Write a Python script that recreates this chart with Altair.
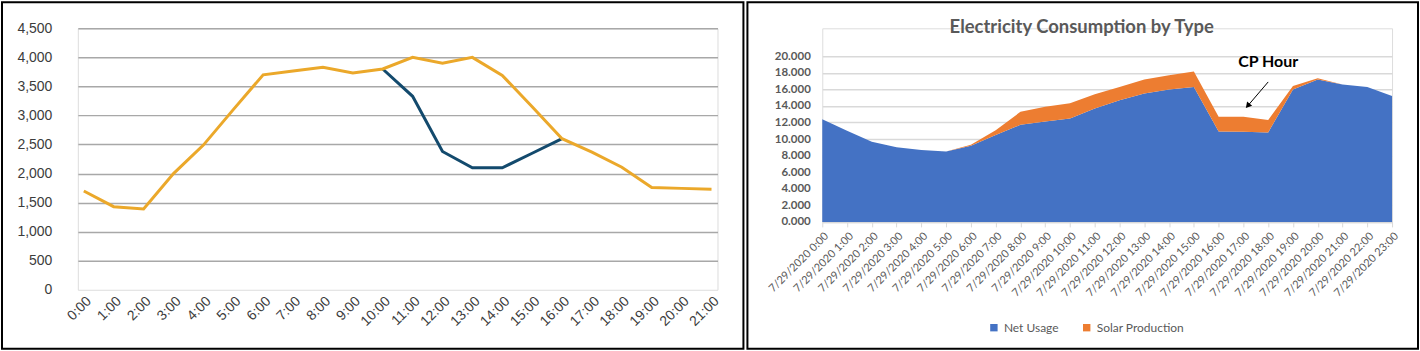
import altair as alt
import pandas as pd

# ---------------- left chart data ----------------
left_hours = [f"{h}:00" for h in range(22)]
left_series_a = [1700, 1430, 1390, 2000, 2490, 3100, 3700, 3765, 3830, 3730, 3800,
                 4000, 3900, 4000, 3690, 3150, 2600, 2370, 2110, 1760, 1745, 1730]
left_hours_b = ["10:00", "11:00", "12:00", "13:00", "14:00", "15:00", "16:00"]
left_series_b = [3800, 3330, 2380, 2100, 2100, 2350, 2600]
left_y_ticks = [0, 500, 1000, 1500, 2000, 2500, 3000, 3500, 4000, 4500]

# ---------------- right chart data ----------------
right_hours = list(range(24))
net_usage = [12.4, 11.0, 9.67, 9.0, 8.67, 8.5, 9.2, 10.48, 11.72, 12.12, 12.48, 13.7,
             14.7, 15.5, 16.0, 16.3, 10.9, 10.88, 10.8, 16.0, 17.2, 16.6, 16.3, 15.2]
solar_production = [0, 0, 0, 0, 0, 0, 0.1, 0.6, 1.57, 1.78, 1.86, 1.7,
                    1.6, 1.7, 1.7, 1.85, 1.8, 1.82, 1.5, 0.4, 0.15, 0, 0, 0]
right_y_ticks = [0, 2, 4, 6, 8, 10, 12, 14, 16, 18, 20]
series_names = ["Net Usage", "Solar Production"]
series_colors = ["#4472C4", "#ED7D31"]

annot_text = "CP Hour"
annot_pos = {"hour": 18.0, "value": 19.3}
arrow = {"h1": 18.0, "v1": 16.9, "h2": 17.2, "v2": 14.1}

# ---------------- left chart ----------------
df_left = pd.concat([
    pd.DataFrame({"lhour": left_hours, "lval": left_series_a, "lser": "A"}),
    pd.DataFrame({"lhour": left_hours_b, "lval": left_series_b, "lser": "B"}),
])

LW, LH = 641, 262
x_left = alt.X("lhour:O", scale=alt.Scale(domain=left_hours, type="point", padding=0.2),
               axis=alt.Axis(title=None, labelAngle=-45, labelAlign="right", labelBaseline="top",
                             labelPadding=4, ticks=False, domain=False, grid=False, labelOverlap=False,
                             labelFont="Liberation Sans", labelFontSize=14, labelColor="#3C3C3C"))
y_left = alt.Y("lval:Q", scale=alt.Scale(domain=[0, 4500], nice=False),
               axis=alt.Axis(title=None, values=left_y_ticks, format=",.0f", ticks=False, domain=False,
                             labelPadding=26, labelFont="Liberation Sans", labelFontSize=14,
                             labelOverlap=False,
                             labelColor="#3C3C3C", gridColor="#A8A8A8", gridWidth=1.5,
                             gridOpacity={"condition": {"test": "datum.value === 0", "value": 0}, "value": 1}))
color_left = alt.Color("lser:N", scale=alt.Scale(domain=["A", "B"], range=["#EBA82A", "#134A6D"]),
                       legend=None)

left_lines_b = alt.Chart(df_left[df_left.lser == "B"]).mark_line(strokeWidth=3).encode(
    x=x_left, y=y_left, color=color_left)
left_lines_a = alt.Chart(df_left[df_left.lser == "A"]).mark_line(strokeWidth=3).encode(
    x=x_left, y=y_left, color=color_left)
left_frame = alt.Chart(alt.Data(values=[{"f": 1}])).mark_rect(
    fill="transparent", stroke="black", strokeWidth=2).encode(
    x=alt.value(-76), x2=alt.value(667), y=alt.value(-26), y2=alt.value(321))

left = alt.layer(left_lines_b, left_lines_a, left_frame).properties(width=LW, height=LH)

# ---------------- right chart ----------------
df_right = pd.concat([
    pd.DataFrame({"hour": right_hours, "value": net_usage, "series": series_names[0], "ord": 0}),
    pd.DataFrame({"hour": right_hours, "value": solar_production, "series": series_names[1], "ord": 1}),
])

RW, RH = 571, 194          # plot area extends 28px above the 20.000 gridline (title space)
Y_TOP = 20 * RH / 166

x_scale_r = alt.Scale(domain=[0, 23], nice=False)
y_scale_r = alt.Scale(domain=[0, Y_TOP], nice=False)
ax_x_r = alt.Axis(title=None, values=right_hours, tickCount=24,
                  labelExpr="'7/29/2020 ' + datum.value + ':00'",
                  labelAngle=-45, labelAlign="right", labelBaseline="top",
                  labelPadding=3, ticks=True, tickSize=5, tickColor="#D9D9D9",
                  domainColor="#D9D9D9", domainWidth=1.5, grid=False, labelOverlap=False,
                  labelFont="Lato", labelFontSize=11, labelColor="#595959")
ax_y_r = alt.Axis(title=None, values=right_y_ticks, tickCount=11, format=".3f",
                  ticks=False, domain=False,
                  labelPadding=12, labelFont="Lato", labelFontSize=11.5, labelOverlap=False,
                  labelFontWeight="bold", labelColor="#595959",
                  gridColor="#D9D9D9", gridWidth=1.5)

area = alt.Chart(df_right).mark_area(interpolate="linear").encode(
    x=alt.X("hour:Q", scale=x_scale_r, axis=ax_x_r),
    y=alt.Y("value:Q", stack="zero", scale=y_scale_r, axis=ax_y_r),
    color=alt.Color("series:N", scale=alt.Scale(domain=series_names, range=series_colors),
                    legend=alt.Legend(title=None, orient="none", legendX=166, legendY=294,
                                      direction="horizontal", symbolType="square", symbolSize=55,
                                      symbolStrokeWidth=0, labelFont="Lato", labelFontSize=12,
                                      labelColor="#595959", columnPadding=22, labelOffset=4)),
    order=alt.Order("ord:Q", sort="ascending"))

title_mark = alt.Chart(alt.Data(values=[{"t": "Electricity Consumption by Type"}])).mark_text(
    font="Lato", fontSize=18.5, fontWeight="bold", color="#595959", align="center", baseline="middle"
).encode(x=alt.value(260), y=alt.value(-1), text="t:N")

cp_text = alt.Chart(alt.Data(values=[{"hour": annot_pos["hour"], "value": annot_pos["value"], "t": annot_text}])).mark_text(
    font="Lato", fontSize=16, fontWeight="bold", color="black", align="center", baseline="middle"
).encode(x=alt.X("hour:Q", scale=x_scale_r, axis=ax_x_r),
         y=alt.Y("value:Q", scale=y_scale_r, axis=ax_y_r), text="t:N")

arrow_line = alt.Chart(alt.Data(values=[arrow])).mark_rule(color="black", strokeWidth=1).encode(
    x=alt.X("h1:Q", scale=x_scale_r, axis=ax_x_r), y=alt.Y("v1:Q", scale=y_scale_r, axis=ax_y_r),
    x2="h2:Q", y2="v2:Q")
arrow_head = alt.Chart(alt.Data(values=[arrow])).mark_point(
    shape="triangle", filled=True, color="black", size=45, angle=221, opacity=1).encode(
    x=alt.X("h2:Q", scale=x_scale_r, axis=ax_x_r), y=alt.Y("v2:Q", scale=y_scale_r, axis=ax_y_r))

right_frame = alt.Chart(alt.Data(values=[{"f": 1}])).mark_rect(
    fill="transparent", stroke="black", strokeWidth=2).encode(
    x=alt.value(-75), x2=alt.value(597), y=alt.value(-26), y2=alt.value(321))

right = alt.layer(area, title_mark, cp_text, arrow_line, arrow_head, right_frame).properties(
    width=RW, height=RH)

chart = alt.hconcat(left, right, spacing=0).resolve_scale(
    x="independent", y="independent", color="independent"
).properties(padding=0).configure_view(stroke=None).configure(background="white")

chart.save("out.html", embed_options={"renderer": "svg", "actions": False})
